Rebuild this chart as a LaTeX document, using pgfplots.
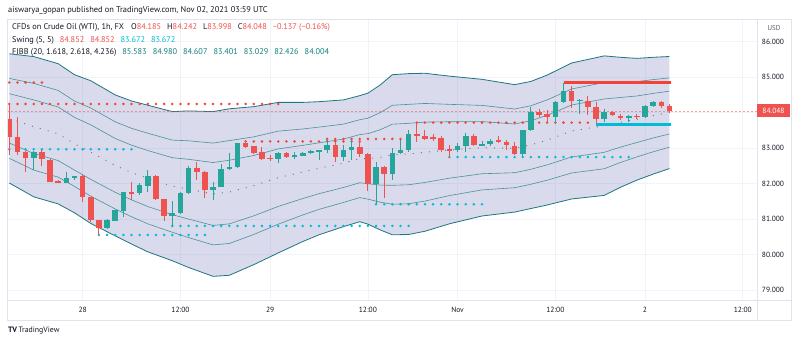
\documentclass[border=0pt]{standalone}
\usepackage{fontspec}
\setmainfont{PT Sans}
\usepackage{pgfplots}
\pgfplotsset{compat=1.18}
\usepackage{pgfplotstable}
\definecolor{tvgreen}{RGB}{38,166,154}
\definecolor{tvred}{RGB}{239,83,80}
\definecolor{swred}{RGB}{244,67,54}
\definecolor{swcyan}{RGB}{0,188,212}
\definecolor{bandout}{RGB}{30,118,128}
\definecolor{bandin}{RGB}{75,145,155}
\definecolor{bandfill}{RGB}{120,123,190}
\definecolor{basisc}{RGB}{110,115,130}
\definecolor{txt}{RGB}{19,23,34}
\definecolor{fibtxt}{RGB}{20,128,128}
\definecolor{gridc}{RGB}{240,243,250}
\definecolor{framec}{RGB}{224,227,235}
\newcommand\fs[1]{\fontsize{#1bp}{#1bp}\selectfont}

\pgfplotstableread{
i o h l c
3 82.71 82.92 82.39 82.90
7 82.03 82.34 82.01 82.15
8 82.15 82.23 82.09 82.22
12 80.76 81.02 80.72 80.98
13 80.96 81.27 80.95 81.26
14 81.24 81.78 81.07 81.76
16 81.73 82.01 81.68 81.96
17 81.94 82.39 81.78 82.23
20 81.10 81.51 80.81 81.17
21 81.17 81.78 81.14 81.73
22 81.73 82.51 81.70 82.43
25 81.82 82.06 81.54 81.92
26 81.92 82.55 81.91 82.41
27 82.41 82.86 82.38 82.47
28 82.47 83.14 82.45 83.14
33 82.70 82.90 82.57 82.86
35 82.76 82.90 82.70 82.81
36 82.79 82.90 82.77 82.87
37 82.87 82.95 82.84 82.92
38 82.91 82.96 82.68 82.95
39 82.95 83.26 82.86 83.09
41 82.76 83.10 82.64 82.95
42 82.95 83.26 82.67 83.04
45 82.00 82.62 81.42 82.47
47 82.28 83.00 82.10 82.87
48 82.87 83.23 82.84 82.95
49 82.95 83.52 82.90 83.40
55 82.95 83.14 82.90 83.06
56 83.06 83.42 82.90 83.34
58 83.08 83.21 83.06 83.12
59 83.12 83.25 83.06 83.21
63 82.84 83.52 82.76 83.51
64 83.51 84.17 83.48 84.02
67 83.89 84.33 83.72 84.31
68 84.31 84.85 84.28 84.62
70 84.33 84.38 83.96 84.36
73 83.81 84.10 83.74 84.03
76 83.84 83.94 83.75 83.91
78 83.87 84.22 83.84 84.20
79 84.20 84.33 84.17 84.31
}\greencandles

\pgfplotstableread{
i o h l c
0 83.81 84.24 82.81 83.31
1 83.31 83.87 82.81 82.90
2 82.90 82.93 82.34 82.71
4 82.90 82.94 82.50 82.69
5 82.67 82.70 82.04 82.04
6 82.07 82.10 82.01 82.04
9 82.22 82.25 81.49 81.62
10 81.62 81.62 80.93 80.98
11 80.98 80.98 80.555 80.76
15 81.76 82.04 81.54 81.72
18 82.23 82.25 81.55 81.56
19 81.56 81.56 80.95 81.10
23 82.43 82.62 82.10 82.34
24 82.34 82.36 81.59 81.82
29 83.14 83.19 83.02 83.04
30 83.06 83.07 82.85 82.86
31 82.88 83.04 82.67 82.71
32 82.73 82.80 82.64 82.71
34 82.86 82.90 82.72 82.76
40 83.09 83.18 82.62 82.76
43 83.04 83.19 82.76 82.84
44 82.84 82.86 81.79 82.00
46 82.47 82.49 81.59 82.28
50 83.40 83.72 83.18 83.33
51 83.35 83.50 83.23 83.27
52 83.31 83.40 83.21 83.25
53 83.29 83.35 82.88 82.96
54 82.97 83.10 82.73 82.95
57 83.34 83.40 83.06 83.09
60 83.23 83.34 83.14 83.17
61 83.18 83.23 82.95 83.08
62 83.06 83.18 82.81 82.84
65 84.02 84.10 83.89 83.94
66 83.95 84.08 83.70 83.89
69 84.62 84.75 84.12 84.34
71 84.34 84.47 83.94 84.17
72 84.17 84.31 83.67 83.81
74 84.03 84.06 83.92 83.94
75 83.92 83.96 83.80 83.84
77 83.92 83.95 83.82 83.87
80 84.31 84.34 84.12 84.185
81 84.185 84.242 83.998 84.048
}\redcandles

\pgfplotstableread{
i U U2 U1 B L1 L2 L
0 85.66 84.965 84.535 83.840 83.145 82.715 82.02
3 85.58 84.826 84.360 83.605 82.851 82.384 81.63
6 85.38 84.626 84.160 83.405 82.651 82.184 81.43
8 85.07 84.327 83.868 83.125 82.382 81.923 81.18
10 84.90 84.132 83.658 82.890 82.122 81.648 80.88
13 84.50 83.742 83.273 82.515 81.757 81.288 80.53
15 84.33 83.560 83.085 82.315 81.545 81.070 80.30
17 84.21 83.421 82.934 82.145 81.356 80.869 80.08
20 84.03 83.228 82.732 81.930 81.128 80.632 79.83
22 84.05 83.208 82.687 81.845 81.003 80.482 79.64
25 84.03 83.144 82.596 81.710 80.824 80.276 79.39
27 84.11 83.214 82.661 81.765 80.869 80.316 79.42
30 84.17 83.320 82.795 81.945 81.095 80.570 79.72
33 84.29 83.480 82.980 82.170 81.360 80.860 80.05
36 84.29 83.541 83.079 82.330 81.581 81.119 80.37
38 84.31 83.594 83.151 82.435 81.719 81.276 80.56
41 84.36 83.678 83.257 82.575 81.893 81.472 80.79
43 84.48 83.802 83.383 82.705 82.027 81.608 80.93
44 84.55 83.845 83.410 82.705 82.000 81.565 80.86
45.5 84.78 84.001 83.519 82.740 81.961 81.479 80.70
47 85.07 84.209 83.676 82.815 81.954 81.421 80.56
49 85.10 84.235 83.700 82.835 81.970 81.435 80.57
51 85.11 84.260 83.735 82.885 82.035 81.510 80.66
54 85.03 84.235 83.745 82.950 82.155 81.665 80.87
58 84.94 84.205 83.750 83.015 82.280 81.825 81.09
62 84.79 84.104 83.681 82.995 82.309 81.886 81.20
64 84.88 84.196 83.774 83.090 82.406 81.984 81.30
66 85.06 84.361 83.929 83.230 82.531 82.099 81.40
69 85.40 84.668 84.217 83.485 82.753 82.302 81.57
73 85.60 84.849 84.386 83.635 82.884 82.421 81.67
75 85.56 84.861 84.429 83.730 83.031 82.599 81.90
77 85.53 84.875 84.470 83.815 83.160 82.755 82.10
79 85.56 84.932 84.543 83.915 83.287 82.898 82.27
81 85.583 84.980 84.607 84.004 83.401 83.029 82.426
}\bands

% outline of the shaded band: upper band left to right, lower band right to left
\pgfplotstableread{
x y
0 85.66
3 85.58
6 85.38
8 85.07
10 84.90
13 84.50
15 84.33
17 84.21
20 84.03
22 84.05
25 84.03
27 84.11
30 84.17
33 84.29
36 84.29
38 84.31
41 84.36
43 84.48
44 84.55
45.5 84.78
47 85.07
49 85.10
51 85.11
54 85.03
58 84.94
62 84.79
64 84.88
66 85.06
69 85.40
73 85.60
75 85.56
77 85.53
79 85.56
81 85.583
81 82.426
79 82.27
77 82.10
75 81.90
73 81.67
69 81.57
66 81.40
64 81.30
62 81.20
58 81.09
54 80.87
51 80.66
49 80.57
47 80.56
45.5 80.70
44 80.86
43 80.93
41 80.79
38 80.56
36 80.37
33 80.05
30 79.72
27 79.42
25 79.39
22 79.64
20 79.83
17 80.08
15 80.30
13 80.53
10 80.88
8 81.18
6 81.43
3 81.63
0 82.02
}\bandoutline

\begin{document}
\begin{tikzpicture}
\fill[white] (0,0) rectangle (800bp,343bp);
\begin{axis}[
  at={(7bp,43bp)}, anchor=south west,
  scale only axis, width=750bp, height=281bp,
  xmin=-0.282, xmax=91.743, ymin=78.724, ymax=86.639,
  axis line style={draw=none},
  major tick length=0pt,
  xtick={9,21,32,44,55,67,78,90},
  xticklabels={28,12:00,29,12:00,Nov,12:00,2,12:00},
  ytick={79,80,81,82,83,85,86},
  extra y ticks={84}, extra y tick labels={},
  scaled y ticks=false,
  yticklabel pos=right,
  /pgf/number format/assume math mode=true,
  yticklabel style={anchor=center, xshift=16bp, font=\fs{7.5}, text=txt,
     /pgf/number format/fixed, /pgf/number format/fixed zerofill, /pgf/number format/precision=3},
  xticklabel style={anchor=center, yshift=-10bp, font=\fs{7.5}, text=txt},
  grid=major, major grid style={gridc, line width=0.8bp},
]
% band fill
\addplot[fill=bandfill, fill opacity=0.28, draw=none, mark=none] table[x=x, y=y] {\bandoutline} -- cycle;
% band lines
\addplot[bandout, line width=0.8bp, mark=none] table[x=i, y=U] {\bands};
\addplot[bandout, line width=0.8bp, mark=none] table[x=i, y=L] {\bands};
\addplot[bandin, line width=0.6bp, mark=none] table[x=i, y=U2] {\bands};
\addplot[bandin, line width=0.6bp, mark=none] table[x=i, y=U1] {\bands};
\addplot[bandin, line width=0.6bp, mark=none] table[x=i, y=L1] {\bands};
\addplot[bandin, line width=0.6bp, mark=none] table[x=i, y=L2] {\bands};
\addplot[basisc, line width=1.3bp, line cap=round, dash pattern=on 0bp off 8.15bp, mark=none] table[x=i, y=B] {\bands};
% price line
\addplot[tvred, opacity=0.55, line width=0.6bp, dash pattern=on 2bp off 2bp, mark=none] coordinates {(-0.282,84.048) (91.743,84.048)};
% swing dots
\pgfplotsset{swdot/.style={line width=2.8bp, line cap=round, dash pattern=on 0bp off 8.15bp, mark=none}}
\addplot[swred, swdot] coordinates {(0,84.85) (4.02,84.85)};
\addplot[swred, swdot] coordinates {(0,84.245) (33.02,84.245)};
\addplot[swred, swdot] coordinates {(29,83.19) (43.02,83.19)};
\addplot[swred, swdot] coordinates {(39,83.26) (48.02,83.26)};
\addplot[swred, swdot] coordinates {(50,83.72) (71.02,83.72)};
\addplot[swcyan, swdot] coordinates {(0,82.97) (15.02,82.97)};
\addplot[swcyan, swdot] coordinates {(11,80.555) (24.02,80.555)};
\addplot[swcyan, swdot] coordinates {(20,80.81) (49.02,80.81)};
\addplot[swcyan, swdot] coordinates {(45,81.42) (58.02,81.42)};
\addplot[swcyan, swdot] coordinates {(54,82.75) (76.02,82.75)};
\addplot[swred, line width=3bp, mark=none] coordinates {(68,84.852) (81.2,84.852)};
\addplot[swcyan, line width=3bp, mark=none] coordinates {(72,83.672) (81.2,83.672)};
% candles: wicks
\addplot[draw=none, mark=none, error bars/.cd, y dir=both, y explicit, error mark=none,
  error bar style={draw=tvgreen, line width=1bp}]
  table[x=i, y expr=(\thisrow{h}+\thisrow{l})/2, y error expr=(\thisrow{h}-\thisrow{l})/2] {\greencandles};
\addplot[draw=none, mark=none, error bars/.cd, y dir=both, y explicit, error mark=none,
  error bar style={draw=tvred, line width=1bp}]
  table[x=i, y expr=(\thisrow{h}+\thisrow{l})/2, y error expr=(\thisrow{h}-\thisrow{l})/2] {\redcandles};
% bodies
\addplot[draw=none, mark=none, error bars/.cd, y dir=both, y explicit, error mark=none,
  error bar style={draw=tvgreen, line width=5.6bp}]
  table[x=i, y expr=(\thisrow{o}+\thisrow{c})/2, y error expr={max(abs(\thisrow{c}-\thisrow{o})/2,0.015)}] {\greencandles};
\addplot[draw=none, mark=none, error bars/.cd, y dir=both, y explicit, error mark=none,
  error bar style={draw=tvred, line width=5.6bp}]
  table[x=i, y expr=(\thisrow{o}+\thisrow{c})/2, y error expr={max(abs(\thisrow{c}-\thisrow{o})/2,0.015)}] {\redcandles};
\end{axis}
% frame
\draw[framec, line width=0.8bp] (7bp,23bp) rectangle (791bp,324bp);
\draw[framec, line width=0.8bp] (7bp,43bp) -- (791bp,43bp);
\draw[framec, line width=0.8bp] (757bp,23bp) -- (757bp,324bp);
% price label
\fill[tvred] (757bp,225.5bp) rectangle (790bp,238.5bp);
\node[text=white, font=\fs{7.5}, inner sep=0] at (773.5bp,232bp) {84.048};
\node[text=txt!70, font=\fs{7}, inner sep=0] at (774bp,315bp) {USD};
% header
\node[anchor=west, inner sep=0, text=txt, font=\fs{8.4}] at (8bp,332.3bp) {aiswarya\_gopan published on TradingView.com, Nov 02, 2021 03:59 UTC};
\node[anchor=west, inner sep=0, text=txt, font=\fs{8.3}] at (12bp,315.3bp) {CFDs on Crude Oil (WTI), 1h, FX\hspace{7bp}O\textcolor{tvred}{84.185}\hspace{6bp}H\textcolor{tvred}{84.242}\hspace{6bp}L\textcolor{tvred}{83.998}\hspace{6bp}C\textcolor{tvred}{84.048}\hspace{6bp}\textcolor{tvred}{−0.137 (−0.16\%)}};
\node[anchor=west, inner sep=0, text=txt, font=\fs{8.3}] at (12bp,302.3bp) {Swing (5, 5)\hspace{6bp}\textcolor{tvred}{84.852}\hspace{6bp}\textcolor{tvred}{84.852}\hspace{6bp}\textcolor{swcyan}{83.672}\hspace{6bp}\textcolor{swcyan}{83.672}};
\node[anchor=west, inner sep=0, text=txt, font=\fs{8.3}] at (12bp,290.7bp) {FIBB (20, 1.618, 2.618, 4.236)\hspace{6bp}\textcolor{fibtxt}{85.583\hspace{6bp}84.980\hspace{6bp}84.607\hspace{6bp}83.401\hspace{6bp}83.029\hspace{6bp}82.426\hspace{6bp}84.004}};
% footer logo
\node[anchor=west, inner sep=0, text=txt, font=\fs{7.8}] at (8bp,12bp) {\textbf{TV}\hspace{1.5bp}TradingView};
\pgfresetboundingbox
\path[use as bounding box] (0,0) rectangle (800bp,343bp);
\end{tikzpicture}
\end{document}
